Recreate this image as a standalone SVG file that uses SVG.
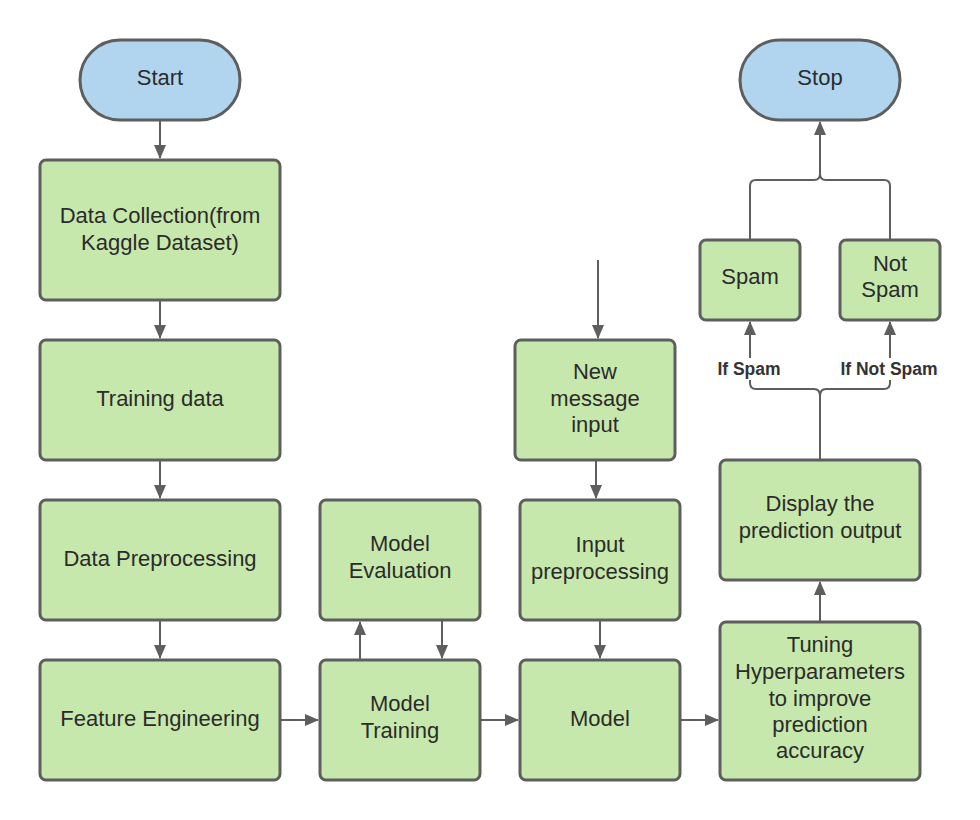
<svg xmlns="http://www.w3.org/2000/svg" width="980" height="820" viewBox="0 0 980 820">
<defs>
<marker id="ah" markerWidth="14" markerHeight="12" refX="13" refY="6" orient="auto" markerUnits="userSpaceOnUse">
<path d="M0,0 L14,6 L0,12 Z" fill="#5e5e5e"/>
</marker>
<style>
.box{fill:#c7e8ac;stroke:#5e5e5e;stroke-width:3}
.term{fill:#b1d5ef;stroke:#5e5e5e;stroke-width:3}
.t{font-family:"Liberation Sans",Arial,sans-serif;font-size:22px;fill:#2b2b2b;text-anchor:middle}
.lbl{font-family:"Liberation Sans",Arial,sans-serif;font-size:17.5px;font-weight:bold;fill:#333;text-anchor:middle}
.c{fill:none;stroke:#5e5e5e;stroke-width:2}
</style>
</defs>
<rect width="980" height="820" fill="#fff"/>
<g id="connectors">
<path class="c" d="M160,120 V158" marker-end="url(#ah)"/>
<path class="c" d="M160,300 V338" marker-end="url(#ah)"/>
<path class="c" d="M160,460 V498" marker-end="url(#ah)"/>
<path class="c" d="M160,620 V658" marker-end="url(#ah)"/>
<path class="c" d="M280,720 H318" marker-end="url(#ah)"/>
<path class="c" d="M360,660 V622" marker-end="url(#ah)"/>
<path class="c" d="M442,620 V658" marker-end="url(#ah)"/>
<path class="c" d="M480,720 H518" marker-end="url(#ah)"/>
<path class="c" d="M598,260 V338" marker-end="url(#ah)"/>
<path class="c" d="M596,460 V498" marker-end="url(#ah)"/>
<path class="c" d="M600,620 V658" marker-end="url(#ah)"/>
<path class="c" d="M680,720 H718" marker-end="url(#ah)"/>
<path class="c" d="M820,622 V582" marker-end="url(#ah)"/>
<path class="c" d="M820,460 V396 Q820,389 814,389 H756 Q750,389 750,383 V322" marker-end="url(#ah)"/>
<path class="c" d="M820,396 Q820,389 826,389 H884 Q890,389 890,383 V322" marker-end="url(#ah)"/>
<path class="c" d="M750,240 V186 Q750,180 756,180 H814 Q820,180 820,174 V122" marker-end="url(#ah)"/>
<path class="c" d="M890,240 V186 Q890,180 884,180 H826 Q820,180 820,174"/>
<rect x="714" y="358" width="70" height="22" fill="#fff"/>
<rect x="838" y="358" width="102" height="22" fill="#fff"/>
<text class="lbl" x="749" y="375">If Spam</text>
<text class="lbl" x="889" y="375">If Not Spam</text>
</g>
<g id="start"><rect class="term" x="80" y="40" width="160" height="80" rx="40"/><text class="t" x="160" y="85">Start</text></g>
<g id="stop"><rect class="term" x="740" y="40" width="160" height="80" rx="40"/><text class="t" x="820" y="85">Stop</text></g>
<g id="data-collection"><rect class="box" x="40" y="160" width="240" height="140" rx="6"/><text class="t" x="160" y="223">Data Collection(from</text><text class="t" x="160" y="250">Kaggle Dataset)</text></g>
<g id="training-data"><rect class="box" x="40" y="340" width="240" height="120" rx="6"/><text class="t" x="160" y="406">Training data</text></g>
<g id="data-preprocessing"><rect class="box" x="40" y="500" width="240" height="120" rx="6"/><text class="t" x="160" y="566">Data Preprocessing</text></g>
<g id="feature-engineering"><rect class="box" x="40" y="660" width="240" height="120" rx="6"/><text class="t" x="160" y="726">Feature Engineering</text></g>
<g id="model-evaluation"><rect class="box" x="320" y="500" width="160" height="120" rx="6"/><text class="t" x="400" y="551">Model</text><text class="t" x="400" y="578">Evaluation</text></g>
<g id="model-training"><rect class="box" x="320" y="660" width="160" height="120" rx="6"/><text class="t" x="400" y="711">Model</text><text class="t" x="400" y="738">Training</text></g>
<g id="new-message-input"><rect class="box" x="515" y="340" width="160" height="120" rx="6"/><text class="t" x="595" y="379">New</text><text class="t" x="595" y="406">message</text><text class="t" x="595" y="432">input</text></g>
<g id="input-preprocessing"><rect class="box" x="520" y="500" width="160" height="120" rx="6"/><text class="t" x="600" y="552">Input</text><text class="t" x="600" y="579">preprocessing</text></g>
<g id="model"><rect class="box" x="520" y="660" width="160" height="120" rx="6"/><text class="t" x="600" y="726">Model</text></g>
<g id="tuning"><rect class="box" x="720" y="622" width="200" height="158" rx="6"/><text class="t" x="820" y="652">Tuning</text><text class="t" x="820" y="679">Hyperparameters</text><text class="t" x="820" y="706">to improve</text><text class="t" x="820" y="732">prediction</text><text class="t" x="820" y="758">accuracy</text></g>
<g id="display"><rect class="box" x="720" y="460" width="200" height="120" rx="6"/><text class="t" x="820" y="511">Display the</text><text class="t" x="820" y="538">prediction output</text></g>
<g id="spam"><rect class="box" x="700" y="240" width="100" height="80" rx="6"/><text class="t" x="750" y="284">Spam</text></g>
<g id="not-spam"><rect class="box" x="840" y="240" width="100" height="80" rx="6"/><text class="t" x="890" y="271">Not</text><text class="t" x="890" y="297">Spam</text></g>
</svg>
